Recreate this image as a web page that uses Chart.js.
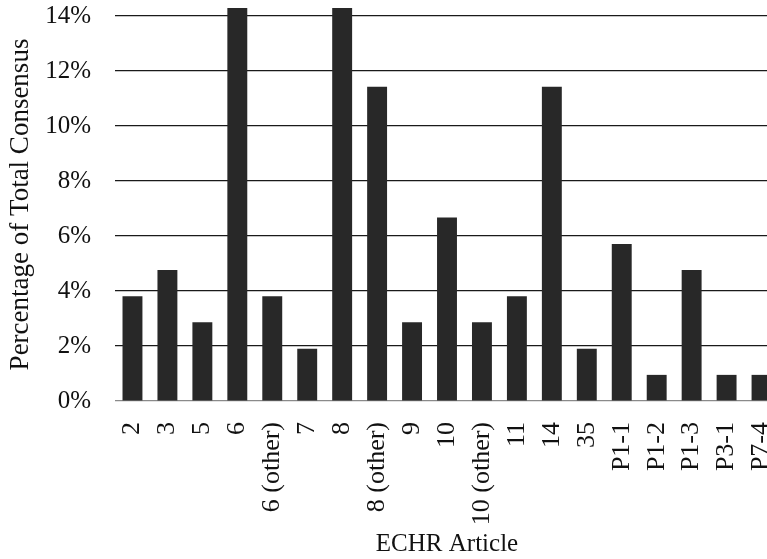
<!DOCTYPE html>
<html>
<head>
<meta charset="utf-8">
<script src="https://cdn.jsdelivr.net/npm/chart.js@4"></script>
<style>
    html, body { margin: 0; padding: 0; background: #fff; overflow: hidden; }
    canvas { display: block; }
</style>
</head>
<body>
<canvas id="myChart" width="779" height="559"></canvas>
<script>
// articles on the x axis
const articles = ['2', '3', '5', '6', '6 (other)', '7', '8', '8 (other)', '9', '10',
    '10 (other)', '11', '14', '35', 'P1-1', 'P1-2', 'P1-3', 'P3-1', 'P7-4'];

// share of total consensus, in percent
const shares = [3.81, 4.76, 2.86, 14.29, 3.81, 1.90, 14.29, 11.43, 2.86, 6.67,
    2.86, 3.81, 11.43, 1.90, 5.71, 0.95, 4.76, 0.95, 0.95];

// y tick values
const yTicks = [0, 2, 4, 6, 8, 10, 12, 14];

const serif = "'Liberation Serif', 'Times New Roman', serif";

const myChart = document.getElementById('myChart');

new Chart(myChart, {
    type: 'bar',
    data: {
        labels: articles,
        datasets: [{
            data: shares,
            backgroundColor: '#282828',
            categoryPercentage: 1,
            barPercentage: 0.57
        }]
    },
    options: {
        responsive: false,
        animation: false,
        layout: { padding: { top: 8, left: 0, right: 0, bottom: 0 } },
        plugins: {
            legend: { display: false },
            tooltip: { enabled: false }
        },
        scales: {
            x: {
                // keep the plot bottom at the same place as the picture
                afterFit: scale => {
                    scale.height = 158;
                    scale.paddingLeft = 0;
                    scale.paddingRight = 0;
                },
                grid: { display: false },
                border: { display: false },
                ticks: {
                    color: '#111',
                    font: { family: serif, size: 26 },
                    autoSkip: false,
                    maxRotation: 90,
                    minRotation: 90,
                    padding: 13
                },
                title: {
                    display: true,
                    text: 'ECHR Article',
                    color: '#111',
                    font: { family: serif, size: 25 },
                    padding: { top: 0, bottom: 0 }
                }
            },
            y: {
                min: 0,
                max: 14.29,
                afterBuildTicks: axis => {
                    axis.ticks = yTicks.map(v => ({ value: v }));
                },
                afterFit: scale => {
                    scale.width = 115;
                    scale.paddingTop = 0;
                    scale.paddingBottom = 0;
                },
                grid: {
                    color: ctx => ctx.tick && ctx.tick.value === 0 ? '#8a8a8a' : '#1a1a1a',
                    lineWidth: 1.2,
                    drawTicks: false
                },
                border: { display: false },
                ticks: {
                    color: '#111',
                    font: { family: serif, size: 25 },
                    padding: 24,
                    callback: v => v + '%'
                },
                title: {
                    display: true,
                    text: 'Percentage of Total Consensus',
                    color: '#111',
                    font: { family: serif, size: 27 },
                    padding: { top: 5, bottom: 0 }
                }
            }
        }
    }
});
</script>
</body>
</html>
